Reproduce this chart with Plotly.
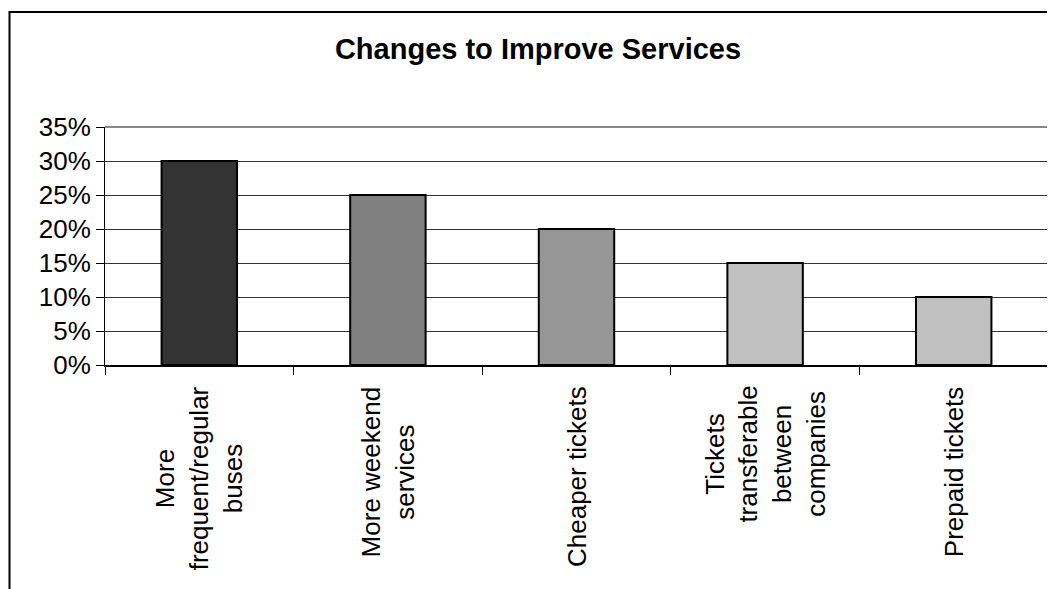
import plotly.graph_objects as go

categories = ["More<br>frequent/regular<br>buses", "More weekend<br>services", "Cheaper tickets",
              "Tickets<br>transferable<br>between<br>companies", "Prepaid tickets"]
values = [0.30, 0.25, 0.20, 0.15, 0.10]
bar_colors = ["#333333", "#808080", "#969696", "#C0C0C0", "#C0C0C0"]
y_ticks = [0, 0.05, 0.10, 0.15, 0.20, 0.25, 0.30, 0.35]
title_text = "Changes to Improve Services"

OFF = 8  # default page body margin
W, H = 1055 - OFF, 589 - OFF
L, R, T, B = 105 - OFF, 1048 - OFF, 127 - OFF, 365 - OFF
pw, ph = R - L, B - T

FONT = "Liberation Sans, Arial, sans-serif"

fig = go.Figure()
fig.add_trace(go.Bar(
    x=list(range(len(categories))), y=values,
    marker=dict(color=bar_colors, line=dict(color="#000000", width=2)),
    width=0.4, showlegend=False, hoverinfo="skip",
))

annotations = []
for i, c in enumerate(categories):
    annotations.append(dict(
        x=i, xref="x", y=0, yref="paper", yshift=-19,
        text=c, textangle=-90, showarrow=False,
        xanchor="center", yanchor="top", align="center",
        font=dict(family=FONT, size=26, color="#000000"),
    ))

shapes = [
    dict(type="line", xref="paper", yref="paper", x0=0, x1=1, y0=1, y1=1,
         line=dict(color="#888888", width=2), layer="above"),
    dict(type="line", xref="paper", yref="paper", x0=1, x1=1, y0=0, y1=1,
         line=dict(color="#888888", width=2), layer="above"),
    dict(type="rect", xref="paper", yref="paper",
         x0=(1.5 - L) / pw, x1=(1075 - OFF - L) / pw,
         y0=(B - 610) / ph, y1=(B - (12 - OFF)) / ph,
         line=dict(color="#000000", width=2), layer="above"),
]

fig.update_layout(
    width=W, height=H,
    margin=dict(l=L, r=W - R, t=T, b=H - B, pad=0),
    paper_bgcolor="white", plot_bgcolor="white",
    title=dict(text="<b>" + title_text + "</b>", xref="container", yref="container",
               x=(538 - OFF) / W, y=1 - (49 - OFF) / H, xanchor="center", yanchor="middle",
               font=dict(family=FONT, size=29, color="#000000")),
    font=dict(family=FONT, size=26, color="#000000"),
    bargap=0.6,
    annotations=annotations,
    shapes=shapes,
)

fig.update_xaxes(
    range=[-0.5, len(categories) - 0.5],
    tickmode="array", tickvals=[i - 0.5 for i in range(len(categories) + 1)],
    ticks="outside", ticklen=8, tickcolor="#000000", tickwidth=1,
    showticklabels=False, showgrid=False, zeroline=False,
    showline=True, linecolor="#000000", linewidth=2,
)
fig.update_yaxes(
    range=[0, 0.35], tickvals=y_ticks, tickformat=".0%",
    ticks="outside", ticklen=8, tickcolor="#000000", tickwidth=1,
    showgrid=True, gridcolor="#333333", gridwidth=1, zeroline=False,
    showline=True, linecolor="#000000", linewidth=1,
    tickfont=dict(family=FONT, size=26, color="#000000"),
)

fig.write_html("out.html")
